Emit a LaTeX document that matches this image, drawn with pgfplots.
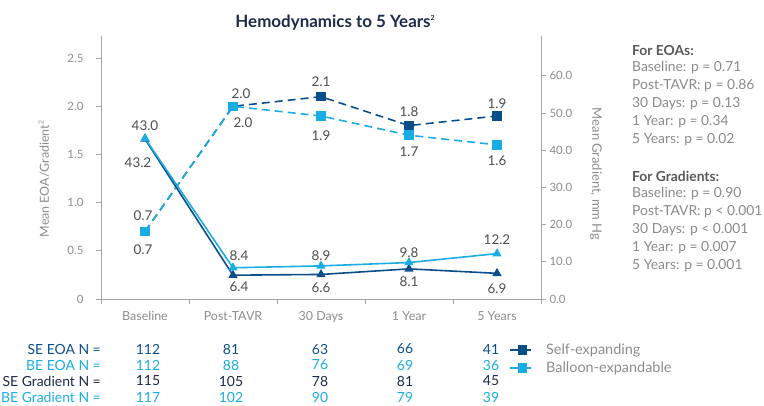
\documentclass[border=0pt]{standalone}
\usepackage{fontspec}
\setmainfont{Lato}
\usepackage{pgfplots}
\pgfplotsset{compat=1.18}
\definecolor{seblue}{HTML}{0B4F8A}
\definecolor{beblue}{HTML}{1AADE4}
\definecolor{navy}{HTML}{1C2B4A}
\definecolor{axisgrey}{HTML}{A6A6A6}
\definecolor{tickgrey}{HTML}{8C8C8C}
\definecolor{labgrey}{HTML}{4D4D4D}
\definecolor{pgrey}{HTML}{8A8A8A}
\definecolor{pdark}{HTML}{595959}
\tikzset{lab/.style={font=\fontsize{13.5}{15}\selectfont, text=labgrey, anchor=center, inner sep=0pt}}
\newcommand{\smsup}[1]{\raisebox{0.8ex}{\fontsize{7}{7}\selectfont #1}}
\newcommand{\legfont}{\fontsize{14.5}{16}\selectfont}
\begin{document}
\begin{tikzpicture}
\useasboundingbox (0,0) rectangle (764bp,-406bp);
\pgfplotsset{
  common/.style={scale only axis, width=440bp, height=263bp,
    at={(101bp,-299bp)}, anchor=south west,
    xmin=-0.5, xmax=4.5, clip=false,
    tick align=outside, major tick length=5bp,
    tick style={axisgrey, line width=0.8pt},
    axis line style={axisgrey, line width=1pt, -},
    ticklabel style={font=\fontsize{11.5}{13}\selectfont, text=tickgrey},
    /pgf/number format/assume math mode=true}
}
\begin{axis}[common,
  ymin=0, ymax=2.73,
  axis x line*=bottom, axis y line*=left,
  xtick={-0.5,0.5,1.5,2.5,3.5,4.5}, x tick label as interval,
  xticklabels={Baseline,Post-TAVR,30 Days,1 Year,5 Years},
  x tick label style={font=\fontsize{12.5}{14}\selectfont, yshift=-4bp},
  ytick={0,0.5,1,1.5,2,2.5}, yticklabels={0,0.5,1.0,1.5,2.0,2.5},
  y tick label style={xshift=-9bp},
  ylabel={Mean EOA/Gradient\smsup{2}},
  every axis y label/.style={at={(rel axis cs:-0.1295,0.456)}, rotate=90, anchor=center,
    font=\fontsize{12.5}{14}\selectfont, text=tickgrey},
  legend style={at={(rel axis cs:0.928,-0.163)}, anchor=north west, draw=none, fill=none,
    inner sep=0pt, row sep=2bp, text=tickgrey},
  legend cell align=left,
  legend image code/.code={\draw[mark repeat=2,mark phase=2,#1] plot coordinates {(0bp,0bp) (12bp,0bp) (24bp,0bp)};},
]
\addplot[seblue, line width=1.6pt, dash pattern=on 8bp off 5bp, mark=square*, mark size=4bp, mark options={solid}]
  coordinates {(0,0.7)(1,2.0)(2,2.1)(3,1.8)(4,1.9)};
\addlegendentry{\legfont\hspace{9bp}Self-expanding}
\addplot[beblue, line width=1.6pt, dash pattern=on 8bp off 5bp, mark=square*, mark size=4bp, mark options={solid}]
  coordinates {(0,0.7)(1,2.0)(2,1.9)(3,1.7)(4,1.6)};
\addlegendentry{\legfont\hspace{9bp}Balloon-expandable}
% EOA labels
\node[lab, xshift=-2bp, yshift=16bp] at (axis cs:0,0.7) {0.7};
\node[lab, xshift=-2bp, yshift=-18bp] at (axis cs:0,0.7) {0.7};
\node[lab, xshift=8bp, yshift=13bp] at (axis cs:1,2.0) {2.0};
\node[lab, xshift=10bp, yshift=-16bp] at (axis cs:1,2.0) {2.0};
\node[lab, yshift=15bp] at (axis cs:2,2.1) {2.1};
\node[lab, yshift=-20bp] at (axis cs:2,1.9) {1.9};
\node[lab, yshift=14bp] at (axis cs:3,1.8) {1.8};
\node[lab, yshift=-16bp] at (axis cs:3,1.7) {1.7};
\node[lab, yshift=12bp] at (axis cs:4,1.9) {1.9};
\node[lab, yshift=-16bp] at (axis cs:4,1.6) {1.6};
\end{axis}
\begin{axis}[common,
  ymin=0, ymax=70.7,
  axis x line=none, axis y line*=right,
  ytick={0,10,20,30,40,50,60}, yticklabels={0.0,10.0,20.0,30.0,40.0,50.0,60.0},
  ylabel={Mean Gradient, mm Hg},
  every axis y label/.style={at={(rel axis cs:1.125,0.475)}, rotate=-90, anchor=center,
    font=\fontsize{13}{15}\selectfont, text=tickgrey},
]
\addplot[seblue, line width=1.6pt, mark=triangle*, mark size=3.8bp]
  coordinates {(0,43.0)(1,6.4)(2,6.6)(3,8.1)(4,6.9)};
\addplot[beblue, line width=1.6pt, mark=triangle*, mark size=3.8bp]
  coordinates {(0,43.2)(1,8.4)(2,8.9)(3,9.8)(4,12.2)};
\node[lab, yshift=13bp] at (axis cs:0,43.0) {43.0};
\node[lab, xshift=-7bp, yshift=-24bp] at (axis cs:0,43.2) {43.2};
\node[lab, xshift=6bp, yshift=12bp] at (axis cs:1,8.4) {8.4};
\node[lab, xshift=6bp, yshift=-12bp] at (axis cs:1,6.4) {6.4};
\node[lab, yshift=10bp] at (axis cs:2,8.9) {8.9};
\node[lab, yshift=-13bp] at (axis cs:2,6.6) {6.6};
\node[lab, yshift=10bp] at (axis cs:3,9.8) {9.8};
\node[lab, yshift=-13bp] at (axis cs:3,8.1) {8.1};
\node[lab, yshift=13.5bp] at (axis cs:4,12.2) {12.2};
\node[lab, yshift=-15bp] at (axis cs:4,6.9) {6.9};
\end{axis}
% title
\node[font=\fontsize{17}{19}\selectfont\bfseries, text=navy, anchor=center] at (335bp,-23bp) {Hemodynamics to 5 Years\smsup{2}};
% N table
\begin{scope}[every node/.style={font=\fontsize{14}{15}\selectfont, inner sep=0pt}]
\node[anchor=east, text=seblue] at (101bp,-349bp) {SE EOA N =};
\node[anchor=east, text=beblue] at (101bp,-365bp) {BE EOA N =};
\node[anchor=east, text=navy] at (101bp,-381bp) {SE Gradient N =};
\node[anchor=east, text=beblue] at (101bp,-397bp) {BE Gradient N =};
\foreach \x/\a/\b/\c/\d in {148/112/112/115/117, 231/81/88/105/102, 320/63/76/78/90, 405/66/69/81/79, 491/41/36/45/39}{
  \node[text=seblue] at (\x bp,-349bp) {\a};
  \node[text=beblue] at (\x bp,-365bp) {\b};
  \node[text=navy] at (\x bp,-381bp) {\c};
  \node[text=beblue] at (\x bp,-397bp) {\d};
}
\end{scope}
% p-values
\begin{scope}[every node/.style={font=\fontsize{13.9}{16}\selectfont, inner sep=0pt, anchor=west, text=pgrey}]
\node[text=pdark, font=\fontsize{13.9}{16}\selectfont\bfseries] at (632bp,-50bp) {For EOAs:};
\node at (632bp,-68bp) {Baseline: p = 0.71};
\node at (632bp,-86bp) {Post-TAVR: p = 0.86};
\node at (632bp,-104bp) {30 Days: p = 0.13};
\node at (632bp,-122bp) {1 Year: p = 0.34};
\node at (632bp,-140bp) {5 Years: p = 0.02};
\node[text=pdark, font=\fontsize{13.9}{16}\selectfont\bfseries] at (632bp,-176bp) {For Gradients:};
\node at (632bp,-194bp) {Baseline: p = 0.90};
\node at (632bp,-212bp) {Post-TAVR: p < 0.001};
\node at (632bp,-230bp) {30 Days: p < 0.001};
\node at (632bp,-248bp) {1 Year: p = 0.007};
\node at (632bp,-266bp) {5 Years: p = 0.001};
\end{scope}
\end{tikzpicture}
\end{document}
